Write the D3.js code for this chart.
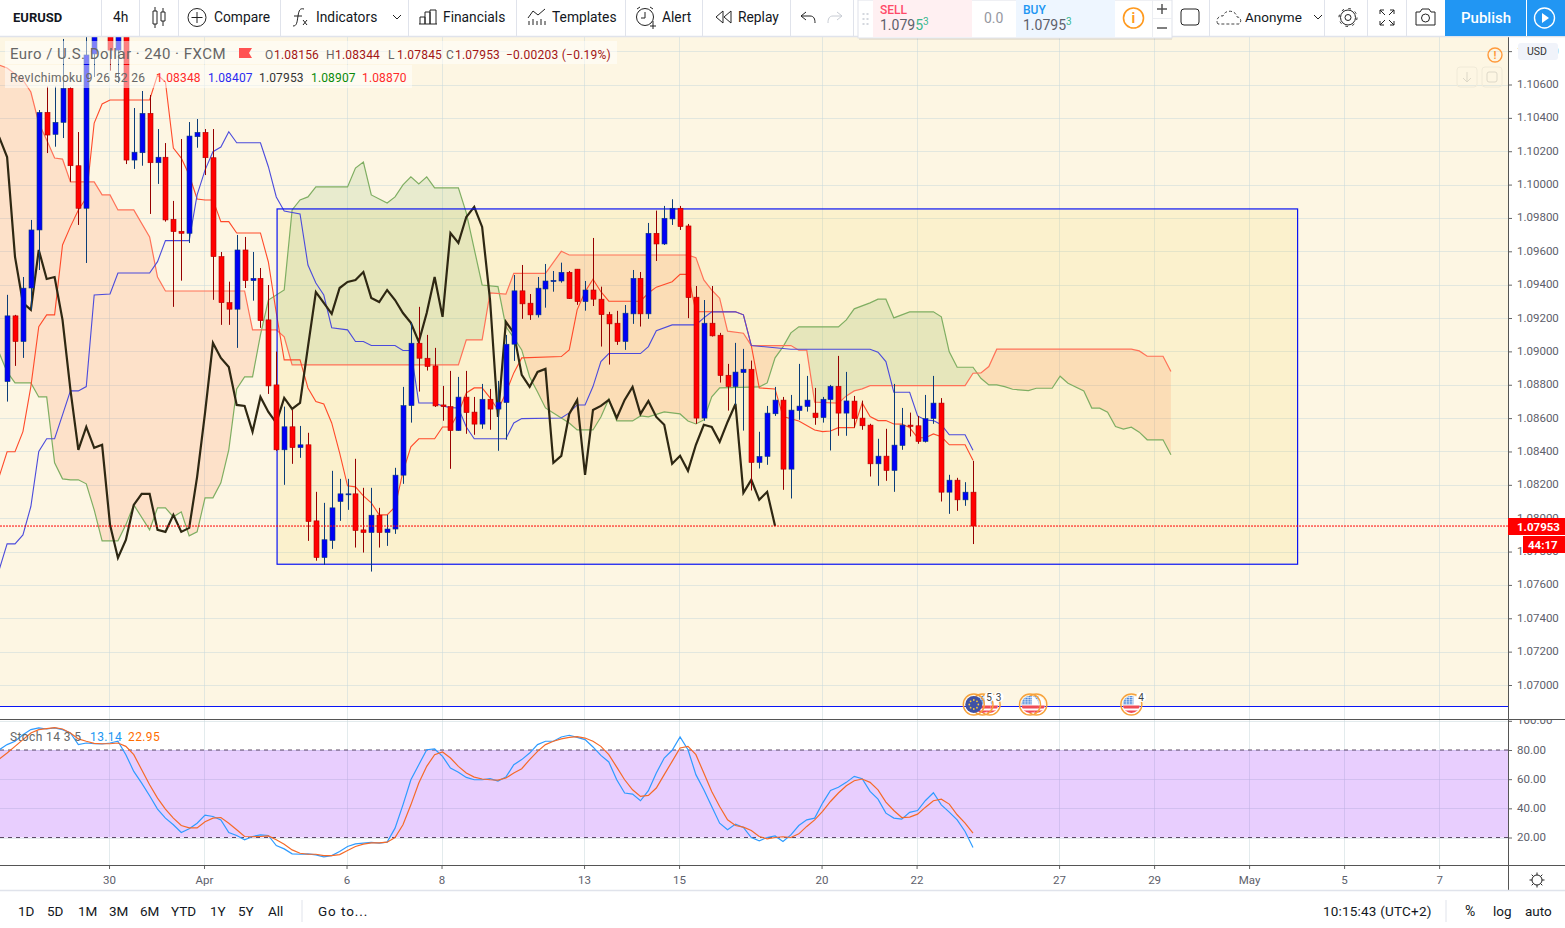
<!DOCTYPE html>
<html><head>
<meta charset="utf-8">
<title>EURUSD 4h</title>
<style type="text/css">
    html,body {margin:0;padding:0;background:#fff;overflow:hidden}
    svg {display:block}
    text {font-family:Roboto,"Noto Sans",sans-serif}
</style>
</head>
<body>
<script src="https://d3js.org/d3.v7.min.js"></script>
<script>
// candles, bar 0 is the first whole candle on the left, bar 122 the last one
var opens = [1.08819,1.09213,1.09059,1.09380,1.09728,1.10433,1.10301,1.10373,1.10577,1.10113,1.09858,1.10783,1.10920,1.10914,1.10806,1.10914,1.10147,1.10191,1.10427,1.10131,1.10164,1.09792,1.09720,1.09708,1.10287,1.10313,1.10161,1.09568,1.09292,1.09253,1.09608,1.09424,1.09438,1.09189,1.08799,1.08410,1.08548,1.08423,1.08440,1.07984,1.07764,1.07866,1.08100,1.08142,1.08146,1.07930,1.07914,1.08018,1.07914,1.07935,1.08258,1.08675,1.09049,1.08959,1.08913,1.08679,1.08669,1.08525,1.08726,1.08636,1.08564,1.08713,1.08654,1.08693,1.09043,1.09363,1.09289,1.09219,1.09374,1.09418,1.09422,1.09474,1.09493,1.09298,1.09368,1.09313,1.09220,1.09169,1.09059,1.09225,1.09438,1.09225,1.09708,1.09644,1.09794,1.09858,1.09752,1.09325,1.08600,1.09169,1.09097,1.08857,1.08789,1.08873,1.08893,1.08334,1.08370,1.08626,1.08708,1.08294,1.08645,1.08669,1.08630,1.08603,1.08711,1.08791,1.08630,1.08702,1.08600,1.08558,1.08326,1.08372,1.08286,1.08436,1.08558,1.08554,1.08460,1.08597,1.08690,1.08156,1.08228,1.08110,1.08156];
var highs = [1.09339,1.09219,1.09446,1.09788,1.10447,1.10587,1.10587,1.10873,1.10585,1.10315,1.10885,1.10986,1.11000,1.10926,1.10926,1.10926,1.10459,1.10561,1.10537,1.10333,1.10249,1.09902,1.10273,1.10375,1.10393,1.10333,1.10333,1.09596,1.09418,1.09698,1.09686,1.09596,1.09500,1.09398,1.08999,1.08669,1.08649,1.08553,1.08512,1.08158,1.08092,1.08284,1.08236,1.08236,1.08356,1.08182,1.08182,1.08062,1.08020,1.08302,1.08787,1.09171,1.09267,1.09099,1.09021,1.08793,1.08883,1.08847,1.08883,1.08727,1.08805,1.08775,1.08823,1.09099,1.09458,1.09518,1.09344,1.09446,1.09524,1.09482,1.09532,1.09482,1.09494,1.09422,1.09680,1.09388,1.09237,1.09243,1.09278,1.09488,1.09476,1.09770,1.09844,1.09872,1.09912,1.09872,1.09764,1.09392,1.09308,1.09392,1.09111,1.08925,1.09051,1.09015,1.08945,1.08518,1.08673,1.08787,1.08727,1.08739,1.08925,1.08853,1.08781,1.08727,1.08799,1.08973,1.08877,1.08733,1.08705,1.08566,1.08476,1.08536,1.08805,1.08661,1.08633,1.08613,1.08739,1.08853,1.08720,1.08260,1.08242,1.08216,1.08344];
var lows = [1.08699,1.08913,1.08961,1.09249,1.09488,1.10189,1.10227,1.10279,1.10017,1.09758,1.09530,1.10645,1.10900,1.10683,1.10609,1.10123,1.10094,1.10113,1.09824,1.10004,1.09778,1.09267,1.09424,1.09650,1.10221,1.10057,1.09309,1.09159,1.09159,1.09021,1.09380,1.09304,1.09141,1.08745,1.08404,1.08200,1.08326,1.08362,1.07864,1.07745,1.07720,1.07816,1.07984,1.08050,1.07824,1.07794,1.07680,1.07824,1.07834,1.07906,1.08206,1.08573,1.08759,1.08885,1.08667,1.08584,1.08296,1.08523,1.08506,1.08500,1.08536,1.08530,1.08404,1.08470,1.08943,1.09195,1.09189,1.09203,1.09262,1.09358,1.09412,1.09314,1.09279,1.09244,1.09272,1.09029,1.08921,1.09039,1.09009,1.09165,1.09149,1.09195,1.09542,1.09638,1.09758,1.09728,1.09199,1.08566,1.08584,1.09089,1.08813,1.08645,1.08679,1.08525,1.08166,1.08298,1.08320,1.08613,1.08170,1.08118,1.08590,1.08639,1.08560,1.08573,1.08406,1.08494,1.08494,1.08543,1.08530,1.08250,1.08194,1.08224,1.08158,1.08410,1.08490,1.08446,1.08454,1.08566,1.08100,1.08026,1.08044,1.08074,1.07845];
var closes = [1.09213,1.09059,1.09379,1.09728,1.10433,1.10297,1.10373,1.10577,1.10113,1.09858,1.10777,1.10956,1.10980,1.10806,1.10914,1.10147,1.10194,1.10427,1.10131,1.10164,1.09788,1.09718,1.09708,1.10291,1.10313,1.10161,1.09568,1.09292,1.09253,1.09608,1.09424,1.09438,1.09184,1.08793,1.08410,1.08548,1.08423,1.08440,1.07980,1.07764,1.07871,1.08062,1.08146,1.08146,1.07926,1.07914,1.08018,1.07914,1.07935,1.08258,1.08675,1.09049,1.08959,1.08909,1.08673,1.08669,1.08525,1.08726,1.08633,1.08564,1.08713,1.08654,1.08696,1.09043,1.09363,1.09285,1.09219,1.09379,1.09422,1.09426,1.09474,1.09316,1.09298,1.09368,1.09313,1.09220,1.09165,1.09059,1.09229,1.09438,1.09225,1.09708,1.09644,1.09798,1.09858,1.09748,1.09322,1.08600,1.09169,1.09093,1.08855,1.08789,1.08876,1.08893,1.08334,1.08370,1.08630,1.08708,1.08294,1.08648,1.08672,1.08708,1.08603,1.08713,1.08791,1.08630,1.08703,1.08597,1.08554,1.08326,1.08372,1.08286,1.08438,1.08558,1.08550,1.08460,1.08597,1.08690,1.08156,1.08228,1.08110,1.08156,1.07953];

// ichimoku lines, only the bars where the line bends
var tenkanBars = [-1,0,1,2,3,4,5,6,7,8,9,10,11,12,13,18,19,20,21,22,23,24,25,26,27,28,29,32,33,34,35,37,38,39,40,41,42,43,44,45,46,47,48,49,50,51,52,54,55,56,57,58,59,60,61,62,63,64,65,70,71,72,73,74,75,76,80,81,82,84,85,86,87,92,93,94,95,97,98,100,102,103,104,105,107,108,109,110,111,112,113,114,115,116,117,118,119,121,122];
var tenkanPrices = [1.08250,1.08398,1.08398,1.08519,1.08789,1.09148,1.09219,1.09219,1.09638,1.09748,1.09848,1.09920,1.10369,1.10483,1.10507,1.10507,1.10657,1.10615,1.10219,1.10159,1.10057,1.09914,1.09908,1.09908,1.09778,1.09778,1.09710,1.09710,1.09536,1.09230,1.08949,1.08949,1.08781,1.08699,1.08685,1.08571,1.08392,1.08194,1.08188,1.08134,1.08092,1.08020,1.08020,1.08068,1.08278,1.08428,1.08476,1.08476,1.08547,1.08547,1.08631,1.08751,1.08781,1.08781,1.08721,1.08649,1.08751,1.08871,1.08961,1.08969,1.09009,1.09249,1.09358,1.09433,1.09358,1.09301,1.09301,1.09350,1.09385,1.09418,1.09462,1.09462,1.09238,1.09238,1.09219,1.09035,1.08781,1.08775,1.08609,1.08583,1.08529,1.08519,1.08523,1.08543,1.08543,1.08691,1.08609,1.08585,1.08585,1.08565,1.08564,1.08543,1.08483,1.08482,1.08505,1.08489,1.08440,1.08440,1.08348];
var kijunBars = [-1,0,1,2,3,4,5,6,7,8,9,10,11,13,14,18,19,20,23,24,25,26,27,28,29,32,33,34,35,37,38,39,40,41,43,44,45,46,49,50,51,52,54,55,56,57,58,59,63,64,65,70,71,72,73,74,75,76,80,81,82,84,87,88,89,92,93,94,99,109,110,111,112,114,115,116,117,118,119,121,122];
var kijunPrices = [1.07691,1.07846,1.07846,1.07900,1.08070,1.08400,1.08476,1.08476,1.08619,1.08763,1.08763,1.08789,1.09338,1.09344,1.09470,1.09470,1.09538,1.09664,1.09664,1.09938,1.10087,1.10197,1.10225,1.10317,1.10251,1.10251,1.10107,1.09926,1.09842,1.09824,1.09518,1.09410,1.09338,1.09142,1.09129,1.09059,1.09059,1.09035,1.09035,1.09005,1.09005,1.08691,1.08691,1.08673,1.08663,1.08661,1.08547,1.08476,1.08476,1.08571,1.08597,1.08601,1.08631,1.08679,1.08679,1.08789,1.08939,1.08987,1.08987,1.09029,1.09124,1.09159,1.09159,1.09201,1.09237,1.09237,1.09219,1.09035,1.09013,1.09013,1.08995,1.08939,1.08755,1.08755,1.08613,1.08589,1.08585,1.08560,1.08500,1.08500,1.08407];
var spanABars = [-1,0,1,3,4,5,6,7,8,9,10,11,12,14,15,16,18,19,20,21,22,23,24,25,26,27,28,29,30,31,32,33,35,36,37,38,39,43,44,45,46,48,49,50,51,52,53,54,57,58,60,62,63,64,65,66,67,68,69,70,71,72,74,75,76,77,79,80,81,83,85,86,87,88,89,90,95,96,97,98,99,100,105,106,107,109,110,111,112,114,117,118,119,120,122,123,124,125,126,127,129,130,132,133,134,136,137,138,139,140,141,142,143,144,146,147];
var spanAPrices = [1.08991,1.08877,1.08811,1.08811,1.08727,1.08727,1.08332,1.08236,1.08230,1.08230,1.08206,1.08050,1.07864,1.07864,1.07960,1.08080,1.07930,1.08062,1.08062,1.08008,1.08038,1.07894,1.07918,1.08122,1.08122,1.08212,1.08410,1.08775,1.08847,1.08847,1.09099,1.09308,1.09368,1.09848,1.09908,1.09926,1.09986,1.09986,1.10099,1.10135,1.09938,1.09890,1.09926,1.09998,1.10046,1.10004,1.10046,1.09980,1.09980,1.09830,1.09398,1.09388,1.09148,1.09081,1.09009,1.08847,1.08757,1.08661,1.08631,1.08601,1.08571,1.08529,1.08529,1.08607,1.08715,1.08583,1.08583,1.08613,1.08607,1.08637,1.08625,1.08583,1.08565,1.08589,1.08727,1.08781,1.08787,1.08811,1.08961,1.09027,1.09111,1.09147,1.09147,1.09189,1.09255,1.09291,1.09313,1.09313,1.09201,1.09237,1.09237,1.09207,1.08997,1.08905,1.08905,1.08839,1.08799,1.08799,1.08789,1.08773,1.08765,1.08779,1.08779,1.08851,1.08809,1.08763,1.08660,1.08660,1.08636,1.08549,1.08534,1.08546,1.08516,1.08470,1.08470,1.08380];
var spanBBars = [-1,0,2,3,4,5,6,7,8,11,12,13,14,16,18,19,20,30,31,34,35,36,57,58,60,61,63,64,68,70,71,86,87,88,89,90,91,93,94,99,100,101,102,105,106,107,108,109,121,122,123,124,125,142,143,144,146,147];
var spanBPrices = [1.10717,1.10699,1.10627,1.10555,1.10369,1.10267,1.10159,1.10153,1.10016,1.10016,1.09938,1.09938,1.09848,1.09848,1.09686,1.09446,1.09362,1.09362,1.09129,1.09129,1.09087,1.08919,1.08919,1.09069,1.09069,1.09350,1.09343,1.09468,1.09468,1.09600,1.09578,1.09578,1.09562,1.09428,1.09368,1.09319,1.09121,1.09109,1.09035,1.09035,1.09007,1.09007,1.08696,1.08690,1.08733,1.08763,1.08775,1.08795,1.08795,1.08869,1.08871,1.08909,1.09013,1.09013,1.09003,1.08971,1.08971,1.08879];
// lagging line, one value per bar, from bar -1 to bar 97
var laggingPrices = [1.10285,1.10165,1.09566,1.09291,1.09249,1.09608,1.09434,1.09446,1.09189,1.08769,1.08410,1.08547,1.08422,1.08440,1.07960,1.07762,1.07870,1.08080,1.08146,1.08146,1.07930,1.07918,1.08020,1.07918,1.07942,1.08248,1.08631,1.09051,1.08961,1.08907,1.08679,1.08673,1.08518,1.08727,1.08637,1.08571,1.08721,1.08655,1.08691,1.09027,1.09356,1.09291,1.09225,1.09380,1.09416,1.09428,1.09476,1.09320,1.09296,1.09368,1.09308,1.09230,1.09171,1.09057,1.09230,1.09446,1.09207,1.09710,1.09650,1.09806,1.09866,1.09746,1.09308,1.08607,1.09177,1.09111,1.08859,1.08787,1.08877,1.08895,1.08332,1.08374,1.08625,1.08709,1.08260,1.08649,1.08673,1.08709,1.08601,1.08709,1.08787,1.08625,1.08703,1.08607,1.08560,1.08326,1.08374,1.08284,1.08440,1.08560,1.08547,1.08458,1.08577,1.08685,1.08152,1.08230,1.08110,1.08158,1.07953];

// stochastic, one value per bar, from bar -1 to bar 122
var stochK = [80.2,83.7,86,90.5,94,95.1,94.4,95.1,94,91.7,83.7,84.8,84.3,84.1,84.8,86,76.8,65.3,57.3,48.6,39.5,33.3,28.7,23.4,26,29.8,35.3,34.4,32.1,23.4,21.4,18.4,20.7,21.8,21.4,14.5,12.2,8.8,8.5,8.8,8.1,6.7,7.6,10.4,13.8,15.6,16.1,16.6,16.1,16.8,26.4,42.4,59.6,69.9,80.2,80.7,75.6,67.6,64.7,61.2,59.6,59.6,60.3,58.7,61.4,69.9,73.4,77.9,83.7,86,86,88.9,90.1,88.7,87.1,82.1,76.3,71.8,59.6,50.5,49.8,45.2,52.1,64.2,74.5,79.8,88.9,80.2,63.1,52.7,41.3,29.8,25.3,29.2,26.9,20,17.7,20,21.1,17.3,21.8,28.2,32.1,33.3,43.6,52.3,54.4,57.8,61.9,60.3,51.6,46.3,36.7,33.3,32.6,37.2,38.5,45.4,50.7,42.4,37.4,32.1,24.1,13.14];
var stochD = [73.8,77.9,82.5,87.1,91.7,94,94.7,95.3,94.4,91.7,87.6,86,84.6,84.3,84.3,84.8,82.5,76.8,66.5,56.2,47,39.5,33.3,28.2,26.6,26.6,30.8,33.3,33.7,29.8,25.3,20.7,20.5,20.7,21.1,18.4,15.4,11.5,9.2,8.5,8.5,7.6,7.6,8.3,11.1,13.8,15.4,16.3,16.3,16.8,20,28.7,42.4,57.3,68.8,76.8,78.6,74.5,68.8,64.2,61.4,60.1,59.6,59.4,60.8,64.2,67.2,73.4,79.1,83.7,86,87.6,88.7,89.2,88.2,86,82.5,76.8,68.3,59.6,52.7,48.2,48.9,53.9,63.1,72.2,81.4,82.5,76.8,64.2,51.6,41.3,32.1,28.2,27.1,24.8,20.7,19.1,20,20.5,20,22.5,27.6,32.1,37.9,44.7,50.5,55.5,58.9,60.1,57.8,52.7,44.3,38.5,33.7,34,36,40.8,45.2,46.3,42.9,35.6,29.8,22.95];

// axis labels
var priceTicks = [1.07,1.072,1.074,1.076,1.078,1.08,1.082,1.084,1.086,1.088,1.09,1.092,1.094,1.096,1.098,1.1,1.102,1.104,1.106,1.108];
var stochTicks = [20,40,60,80,100];
var dayTickBars = [13,25,43,55,73,85,103,115,133,145,157,169,181];
var dayTickLabels = ["30","Apr","6","8","13","15","20","22","27","29","May","5","7"];

var W = 1565, H = 928;
var axisX = 1508;

var x = d3.scaleLinear().domain([0,122]).range([7.1,973]);
var y = d3.scaleLinear().domain([1.106,1.07]).range([84.5,685]);
var ys = d3.scaleLinear().domain([20,80]).range([837.5,750]);

var svg = d3.select("body").append("svg").attr("width",W).attr("height",H);
var defs = svg.append("defs");
defs.append("clipPath").attr("id","mainClip").append("rect").attr("x",0).attr("y",37).attr("width",axisX).attr("height",682);
defs.append("clipPath").attr("id","stochAxisClip").append("rect").attr("x",axisX).attr("y",720).attr("width",60).attr("height",145);

// pane backgrounds
svg.append("rect").attr("x",0).attr("y",37).attr("width",axisX).attr("height",669.5).attr("fill","#fdf6e3");

// grid
var grid = svg.append("g").attr("stroke","rgba(200,215,220,.5)").attr("stroke-width",1).attr("shape-rendering","crispEdges");
grid.selectAll(".v").data(dayTickBars).enter().append("line")
    .attr("x1",function(d){return Math.round(x(d))-.5;}).attr("x2",function(d){return Math.round(x(d))-.5;})
    .attr("y1",37).attr("y2",865);
grid.selectAll(".h").data(priceTicks).enter().append("line")
    .attr("x1",0).attr("x2",axisX)
    .attr("y1",function(d){return Math.round(y(d))+.5;}).attr("y2",function(d){return Math.round(y(d))+.5;});
grid.selectAll(".s").data(stochTicks).enter().append("line")
    .attr("x1",0).attr("x2",axisX)
    .attr("y1",function(d){return Math.round(ys(d))+.5;}).attr("y2",function(d){return Math.round(ys(d))+.5;});

var main = svg.append("g").attr("clip-path","url(#mainClip)");

// price box drawn on the chart
var boxBars = [34.1,163], boxPrices = [1.09854,1.07724];
main.append("rect").attr("x",x(boxBars[0])).attr("y",y(boxPrices[0])).attr("width",x(boxBars[1])-x(boxBars[0])).attr("height",y(boxPrices[1])-y(boxPrices[0]))
    .attr("fill","rgba(240,215,80,.15)");

// kumo: one polygon, clipped by the span B line into the green and the red part
function pts(bars,prices){
    return bars.map(function(b,i){return {b:b,p:prices[i]};});
}
var spanA = pts(spanABars,spanAPrices);
var spanB = pts(spanBBars,spanBPrices);
var tenkan = pts(tenkanBars,tenkanPrices);
var kijun = pts(kijunBars,kijunPrices);
var lagging = laggingPrices.map(function(p,i){return {b:i-1,p:p};});

var line = d3.line().x(function(d){return x(d.b);}).y(function(d){return y(d.p);});
var above = d3.area().x(function(d){return x(d.b);}).y0(-1000).y1(function(d){return y(d.p);});
var below = d3.area().x(function(d){return x(d.b);}).y0(2000).y1(function(d){return y(d.p);});
defs.append("clipPath").attr("id","aboveB").append("path").attr("d",above(spanB));
defs.append("clipPath").attr("id","belowB").append("path").attr("d",below(spanB));

var kumo = line(spanA.concat(spanB.slice().reverse())) + "Z";
main.append("g").attr("clip-path","url(#aboveB)").append("path").attr("d",kumo).attr("fill","rgba(80,160,60,.12)");
main.append("g").attr("clip-path","url(#belowB)").append("path").attr("d",kumo).attr("fill","rgba(255,100,40,.14)");

main.append("path").attr("d",line(spanA)).attr("fill","none").attr("stroke","#7fae62").attr("stroke-width",1.2);
main.append("path").attr("d",line(spanB)).attr("fill","none").attr("stroke","#ff7258").attr("stroke-width",1.2);
main.append("path").attr("d",line(tenkan)).attr("fill","none").attr("stroke","#ff4a2a").attr("stroke-width",1.1);
main.append("path").attr("d",line(kijun)).attr("fill","none").attr("stroke","#4b4bdc").attr("stroke-width",1.1);
main.append("path").attr("d",line(lagging)).attr("fill","none").attr("stroke","#2e2712").attr("stroke-width",2.2);

// the box outline
main.append("rect").attr("x",x(boxBars[0])).attr("y",y(boxPrices[0])).attr("width",x(boxBars[1])-x(boxBars[0])).attr("height",y(boxPrices[1])-y(boxPrices[0]))
    .attr("fill","none").attr("stroke","#0a14f5").attr("stroke-width",1.2);

// candles
var candles = main.selectAll(".candle").data(opens).enter().append("g");
candles.append("line")
    .attr("x1",function(d,i){return Math.round(x(i))+.5;}).attr("x2",function(d,i){return Math.round(x(i))+.5;})
    .attr("y1",function(d,i){return y(highs[i]);}).attr("y2",function(d,i){return y(lows[i]);})
    .attr("stroke",function(d,i){return closes[i]>=d ? "#0b3d78" : "#960000";});
candles.append("rect")
    .attr("x",function(d,i){return Math.round(x(i))-2;}).attr("width",5)
    .attr("y",function(d,i){return Math.min(y(d),y(closes[i]));})
    .attr("height",function(d,i){return Math.max(1,Math.abs(y(d)-y(closes[i])));})
    .attr("fill",function(d,i){return closes[i]>=d ? "#0000f5" : "#ff0000";})
    .attr("stroke",function(d,i){return closes[i]>=d ? "#0b3d78" : "#b00000";})
    .attr("stroke-width",.6);

// last price line
main.append("line").attr("x1",0).attr("x2",axisX).attr("y1",y(1.07953)).attr("y2",y(1.07953))
    .attr("stroke","#ff0000").attr("stroke-dasharray","2 1").attr("stroke-width",1);

// bottom edge of the drawing that covers the background
svg.append("line").attr("x1",0).attr("x2",axisX).attr("y1",706.5).attr("y2",706.5).attr("stroke","#0a14f5").attr("stroke-width",1.2);

// event flags
var eventBars = [124.1,123.2,122.1,130,129.2,142];
var eventKinds = ["us","us","eu","us","us","us"];
defs.append("clipPath").attr("id","flagClip").append("circle").attr("r",8.5);
var flags = svg.append("g").selectAll("g").data(eventBars).enter().append("g")
    .attr("transform",function(d){return "translate("+x(d)+",704.5)";});
flags.each(function(d,i){
    var g = d3.select(this);
    var f = g.append("g").attr("clip-path","url(#flagClip)");
    if(eventKinds[i]=="eu"){
        f.append("circle").attr("r",9).attr("fill","#3f51a5");
        d3.range(8).forEach(function(k){
            f.append("circle").attr("cx",4.5*Math.cos(k*Math.PI/4)).attr("cy",4.5*Math.sin(k*Math.PI/4)).attr("r",.9).attr("fill","#f7c93c");
        });
    }else{
        f.append("circle").attr("r",9).attr("fill","#fff");
        f.append("rect").attr("x",-9).attr("y",1).attr("width",18).attr("height",3).attr("fill","#ef4b57");
        f.append("rect").attr("x",-9).attr("y",6).attr("width",18).attr("height",3).attr("fill","#ef4b57");
        f.append("rect").attr("x",-9).attr("y",-9).attr("width",11).attr("height",9).attr("fill","#4a86d8");
        d3.range(4).forEach(function(k){
            f.append("line").attr("x1",-8+k*3).attr("x2",-8+k*3).attr("y1",-9).attr("y2",0).attr("stroke","#fff").attr("stroke-width",.6);
            f.append("line").attr("x1",-9).attr("x2",2).attr("y1",-7+k*2.2).attr("y2",-7+k*2.2).attr("stroke","#fff").attr("stroke-width",.6);
        });
    }
    g.append("circle").attr("r",10.5).attr("fill","none").attr("stroke","#f7a23b").attr("stroke-width",1.4);
});
var badgeBars = [124.8,126,144];
var badgeTexts = ["5","3","4"];
var badges = svg.append("g").selectAll("g").data(badgeBars).enter().append("g")
    .attr("transform",function(d){return "translate("+(x(d)-6)+",697)";});
badges.append("circle").attr("r",5).attr("fill","#fff");
badges.append("text").attr("text-anchor","middle").attr("y",4).attr("font-size",10).attr("fill","#444").text(function(d,i){return badgeTexts[i];});

// stochastic pane
svg.append("rect").attr("x",0).attr("y",ys(80)).attr("width",axisX).attr("height",ys(20)-ys(80)).attr("fill","rgba(160,50,250,.24)");
[80,20].forEach(function(v){
    svg.append("line").attr("x1",0).attr("x2",axisX).attr("y1",ys(v)).attr("y2",ys(v))
        .attr("stroke","#5c4a66").attr("stroke-dasharray","4 4");
});
var sline = d3.line().x(function(d,i){return x(i-1);}).y(function(d){return ys(d);});
svg.append("path").attr("d",sline(stochK)).attr("fill","none").attr("stroke","#2e9bff").attr("stroke-width",1.2);
svg.append("path").attr("d",sline(stochD)).attr("fill","none").attr("stroke","#f56a28").attr("stroke-width",1.2);

// legends
var lg = svg.append("g");
lg.append("rect").attr("x",5).attr("y",41).attr("width",612).attr("height",23).attr("fill","rgba(255,255,255,.5)");
lg.append("rect").attr("x",5).attr("y",65).attr("width",407).attr("height",23).attr("fill","rgba(255,255,255,.5)");
function label(p,s,tx,ty,size,color,extra,spacing){
    var t = p.append("text").attr("x",tx).attr("y",ty).attr("font-size",size).attr("fill",color).text(s);
    if(extra) t.attr("font-weight",extra);
    if(spacing) t.attr("letter-spacing",spacing);
    return t;
}
label(lg,"Euro / U.S. Dollar · 240 · FXCM",10,59,15,"#666",null,.47);
lg.append("path").attr("d","M239 48H252L249 53L252 58H239Z").attr("fill","#ff5252");
var ohlcLabels = ["O","H","L","C"];
var ohlcValues = ["1.08156","1.08344","1.07845","1.07953"];
var ohlcX = [265,326,388,446];
ohlcLabels.forEach(function(s,i){
    label(lg,s,ohlcX[i],59,12,"#666");
    label(lg,ohlcValues[i],ohlcX[i]+9,59,12,"#a31515",null,.2);
});
label(lg,"−0.00203 (−0.19%)",506,59,12,"#a31515",null,.25);
label(lg,"RevIchimoku 9 26 52 26",10,82,12,"#666",null,.35);
var ichiValues = ["1.08348","1.08407","1.07953","1.08907","1.08870"];
var ichiColors = ["#ff2a2a","#2a2af0","#333","#0a8a0a","#ff2a2a"];
var ichiX = [156,208,259,311,362];
ichiValues.forEach(function(s,i){label(lg,s,ichiX[i],82,12,ichiColors[i],null,.15);});
label(lg,"Stoch 14 3 5",10,741,12,"#666",null,.4);
label(lg,"13.14",90,741,12,"#2196f3",null,.4);
label(lg,"22.95",128,741,12,"#ff6d00",null,.4);

// price axis
svg.append("rect").attr("x",axisX).attr("y",37).attr("width",W-axisX).attr("height",853).attr("fill","#fff");
var priceAxis = svg.append("g").attr("transform","translate("+axisX+",0)")
    .call(d3.axisRight(y).tickValues(priceTicks).tickFormat(d3.format(".5f")).tickSize(4).tickPadding(5));
var stochAxis = svg.append("g").attr("clip-path","url(#stochAxisClip)").append("g").attr("transform","translate("+axisX+",0)")
    .call(d3.axisRight(ys).tickValues(stochTicks).tickFormat(d3.format(".2f")).tickSize(4).tickPadding(5));
// time axis
var timeAxis = svg.append("g").attr("transform","translate(-1,865)")
    .call(d3.axisBottom(x).tickValues(dayTickBars).tickFormat(function(d,i){return dayTickLabels[i];}).tickSize(4).tickPadding(7));
[priceAxis,stochAxis,timeAxis].forEach(function(a){
    a.select(".domain").remove();
    a.selectAll("line").attr("stroke","#666");
    a.selectAll("text").attr("font-size",11.5).attr("font-family","Roboto").attr("fill","#5d606b");
});
[priceAxis,stochAxis].forEach(function(a){ a.selectAll("text").attr("dy","0.26em"); });

// pane borders
svg.append("line").attr("x1",0).attr("x2",W).attr("y1",719.5).attr("y2",719.5).attr("stroke","#555");
svg.append("line").attr("x1",0).attr("x2",W).attr("y1",865.5).attr("y2",865.5).attr("stroke","#555");
svg.append("line").attr("x1",axisX+.5).attr("x2",axisX+.5).attr("y1",37).attr("y2",890).attr("stroke","#555");
svg.append("line").attr("x1",0).attr("x2",W).attr("y1",890.5).attr("y2",890.5).attr("stroke","#e0e3eb").attr("stroke-width",1.5);

// price labels on the axis
svg.append("rect").attr("x",axisX).attr("y",518).attr("width",57).attr("height",17).attr("fill","#ff0000");
label(svg,"1.07953",1517,530.5,11.5,"#fff",700);
svg.append("rect").attr("x",1523).attr("y",536).attr("width",42).attr("height",17).attr("fill","#ff0000");
label(svg,"44:17",1528,548.5,11.5,"#fff",700);
svg.append("rect").attr("x",1518).attr("y",43).attr("width",40).attr("height",17).attr("rx",3).attr("fill","#f0f3fa");
label(svg,"USD",1527,55,10.5,"#333");
svg.append("circle").attr("cx",1495).attr("cy",55).attr("r",7).attr("fill","none").attr("stroke","#ff9a3c").attr("stroke-width",1.4);
label(svg,"!",1493.5,59,11,"#ff9a3c",700);
[1467,1492].forEach(function(cx){
    svg.append("rect").attr("x",cx-10).attr("y",67).attr("width",20).attr("height",20).attr("rx",3).attr("fill","none").attr("stroke","#f0ead8");
});
svg.append("path").attr("d","M1467 72V82M1463 78L1467 82L1471 78").attr("fill","none").attr("stroke","#ddd8c8");
svg.append("rect").attr("x",1487).attr("y",72).attr("width",10).attr("height",10).attr("rx",2).attr("fill","none").attr("stroke","#ddd8c8");
// sun icon in the corner
svg.append("circle").attr("cx",1537).attr("cy",880).attr("r",5).attr("fill","none").attr("stroke","#222");
d3.range(8).forEach(function(k){
    var a = k*Math.PI/4;
    svg.append("line").attr("x1",1537+5*Math.cos(a)).attr("y1",880+5*Math.sin(a)).attr("x2",1537+7.5*Math.cos(a)).attr("y2",880+7.5*Math.sin(a)).attr("stroke","#222");
});

// top toolbar
var toolbar = svg.append("g");
toolbar.append("rect").attr("width",W).attr("height",36).attr("fill","#fff");
toolbar.append("line").attr("x1",0).attr("x2",W).attr("y1",36.5).attr("y2",36.5).attr("stroke","#e0e3eb").attr("stroke-width",1.5);
var seps = [101.5,139.5,178.5,280.5,408.5,516.5,625.5,702.5,790.5,853.5,1209.5,1324.5,1367.5,1406.5];
toolbar.selectAll(".sep").data(seps).enter().append("line")
    .attr("x1",function(d){return d;}).attr("x2",function(d){return d;}).attr("y1",0).attr("y2",36).attr("stroke","#e0e3eb");
label(toolbar,"EURUSD",13,22,13,"#131722",700);
var tbTexts = ["4h","Compare","Indicators","Financials","Templates","Alert","Replay"];
var tbX = [113,214,316,443,552,662,738];
tbTexts.forEach(function(s,i){ label(toolbar,s,tbX[i],22,13.8,"#131722"); });
var ic = toolbar.append("g").attr("fill","none").attr("stroke","#222").attr("stroke-width",1);
// candle icon, compare, fx
ic.append("path").attr("d","M153 11H157V24H153ZM155 7V11M155 24V28M161 12H165V21H161ZM163 8V12M163 21V26");
ic.append("circle").attr("cx",197).attr("cy",17.5).attr("r",9);
ic.append("path").attr("d","M197 12V23M191.5 17.5H202.5");
ic.append("path").attr("d","M293 26C297 26 297 22 298 16C299 10 300 8 304 9M294 16H302M303 20L307 25M307 20L303 25");
ic.append("path").attr("d","M393 15L397 19L401 15");
// financials, templates
ic.append("path").attr("d","M420 24V17H425V24M425 24V12H430V24M430 24V10H436V24M419 24H437");
ic.append("path").attr("d","M528 18L533 11L538 15L545 9M529 25V21M533 25V19M537 25V21M541 25V19M545 25V21");
// alert
ic.append("circle").attr("cx",645).attr("cy",17).attr("r",8.5);
ic.append("path").attr("d","M645 12V18H641M637 9L640 7M653 9L650 7M650 26H656M653 21V29");
// replay
ic.append("path").attr("d","M723 11L716 17L723 23ZM731 11L724 17L731 23Z");
// undo redo
ic.append("path").attr("d","M801 16H810C814 16 815 19 815 23M801 16L806 12M801 16L806 20");
ic.append("path").attr("d","M842 16H833C829 16 828 19 828 23M842 16L837 12M842 16L837 20").attr("stroke","#c8ccd4");

// buy sell panel
var panel = toolbar.append("g");
panel.append("line").attr("x1",859).attr("x2",1172).attr("y1",39).attr("y2",39).attr("stroke","rgba(0,0,0,.08)").attr("stroke-width",2);
panel.append("rect").attr("x",858).attr("y",0).attr("width",314).attr("height",38).attr("fill","#fff").attr("stroke","#dfe2ea");
panel.append("rect").attr("x",873).attr("y",0).attr("width",99).attr("height",37).attr("fill","#fff0f2");
panel.append("rect").attr("x",1016).attr("y",0).attr("width",99).attr("height",37).attr("fill","#eef6ff");
d3.range(3).forEach(function(r){
    [862.5,866.5].forEach(function(cx){
        panel.append("rect").attr("x",cx).attr("y",13+r*5).attr("width",2).attr("height",2).attr("fill","#d4d7de");
    });
});
label(panel,"SELL",880,14,12,"#ff4a68",500);
label(panel,"BUY",1023,14,12,"#2196f3",500);
[880,1023].forEach(function(tx,i){
    var t = panel.append("text").attr("x",tx).attr("y",30).attr("font-size",14).attr("fill","#5d606b");
    t.append("tspan").text(i==0 ? "1.079" : "1.0795");
    if(i==0) t.append("tspan").attr("fill","#37b88f").text("5");
    t.append("tspan").attr("fill","#37b88f").attr("font-size",10).attr("dy",-5).text("3");
});
label(panel,"0.0",984,23,14,"#9598a1");
panel.append("circle").attr("cx",1133.5).attr("cy",18).attr("r",10).attr("fill","none").attr("stroke","#ff9a1f").attr("stroke-width",1.6);
label(panel,"i",1131.5,23,14,"#ff9a1f",700);
panel.append("line").attr("x1",1152.5).attr("x2",1152.5).attr("y1",0).attr("y2",37).attr("stroke","#eceef2");
panel.append("line").attr("x1",1152).attr("x2",1172).attr("y1",18.5).attr("y2",18.5).attr("stroke","#eceef2");
panel.append("path").attr("d","M1157 9H1167M1162 4V14M1157 28H1167").attr("stroke","#555").attr("stroke-width",1.5).attr("fill","none");

// right part of the toolbar
toolbar.append("rect").attr("x",1181).attr("y",9).attr("width",18).attr("height",16).attr("rx",3).attr("fill","none").attr("stroke","#222");
toolbar.append("path").attr("d","M1218 24C1215 20 1219 15 1223 16C1225 9 1236 10 1237 17C1241 17 1242 22 1239 24Z")
    .attr("fill","none").attr("stroke","#444").attr("stroke-dasharray","3 2");
label(toolbar,"Anonyme",1245,22,13.5,"#131722");
ic.append("path").attr("d","M1314 15L1318 19L1322 15");
ic.append("circle").attr("cx",1348).attr("cy",17.5).attr("r",3);
ic.append("circle").attr("cx",1348).attr("cy",17.5).attr("r",7.5);
ic.append("circle").attr("cx",1348).attr("cy",17.5).attr("r",9).attr("stroke-dasharray","2.5 4.6");
ic.append("path").attr("d","M1380 14V10H1384M1394 14V10H1390M1380 21V25H1384M1394 21V25H1390M1380 10L1385 15M1394 10L1389 15M1380 25L1385 20M1394 25L1389 20");
ic.append("path").attr("d","M1416 12H1420L1422 9H1429L1431 12H1435V25H1416Z");
ic.append("circle").attr("cx",1425.5).attr("cy",18).attr("r",4);
toolbar.append("rect").attr("x",1445).attr("y",0).attr("width",120).attr("height",36).attr("fill","#2196f3");
toolbar.append("line").attr("x1",1526.5).attr("x2",1526.5).attr("y1",0).attr("y2",36).attr("stroke","#fff");
label(toolbar,"Publish",1461,23,15,"#fff",500);
toolbar.append("circle").attr("cx",1544.5).attr("cy",18).attr("r",10).attr("fill","none").attr("stroke","#fff").attr("stroke-width",1.4);
toolbar.append("path").attr("d","M1542 13L1549 18L1542 23Z").attr("fill","#fff");

// bottom toolbar
var rangeLabels = ["1D","5D","1M","3M","6M","YTD","1Y","5Y","All"];
var rangeX = [18,47,78,109,140,171,210,238,268];
rangeLabels.forEach(function(s,i){ label(svg,s,rangeX[i],916,13.5,"#131722"); });
svg.append("line").attr("x1",302).attr("x2",302).attr("y1",900).attr("y2",922).attr("stroke","#e0e3eb");
label(svg,"Go to...",318,916,13.5,"#131722",null,.9);
label(svg,"10:15:43 (UTC+2)",1323,916,13.5,"#131722",null,.2);
svg.append("line").attr("x1",1446).attr("x2",1446).attr("y1",900).attr("y2",922).attr("stroke","#e0e3eb");
label(svg,"%",1465,916,14,"#131722");
label(svg,"log",1493,916,13.5,"#131722");
label(svg,"auto",1525,916,13.5,"#131722");
</script>
</body></html>
